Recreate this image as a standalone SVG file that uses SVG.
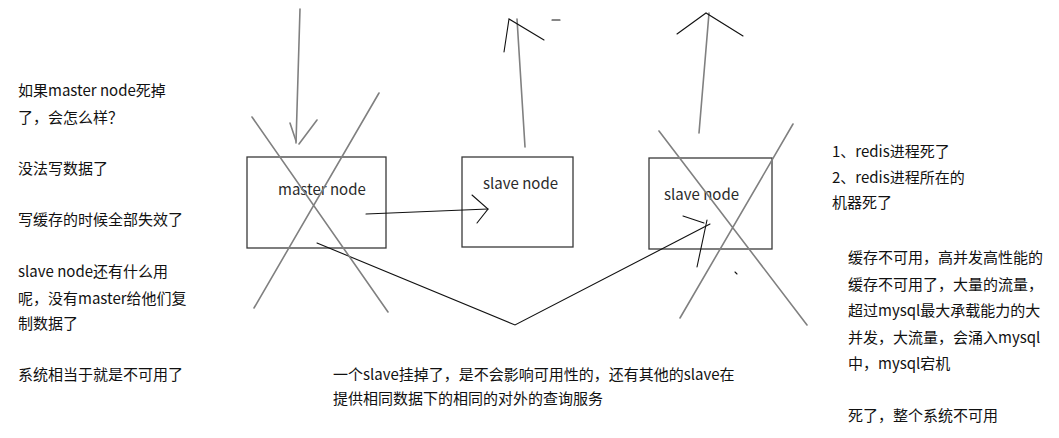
<svg xmlns="http://www.w3.org/2000/svg" width="1059" height="438" viewBox="0 0 1059 438">
<style>
  text { font-family: "Noto Sans CJK SC", "Noto Sans", sans-serif; font-size: 15px; fill: #111111; }
  .box { fill: #ffffff; stroke: #3a3a3a; stroke-width: 1.3; }
  .gray { fill: none; stroke: #808080; stroke-width: 1.6; stroke-linecap: round; }
  .ink { fill: none; stroke: #111111; stroke-width: 1.1; stroke-linecap: round; }
  .label { font-size: 15px; fill: #2a2a2a; }
</style>
<rect width="1059" height="438" fill="#ffffff"/>

<g id="master">
  <rect class="box" x="247" y="157" width="139" height="91"/>
  <text class="label" x="278" y="195">master node</text>
</g>
<g id="slave1">
  <rect class="box" x="462" y="157" width="111" height="90"/>
  <text class="label" x="483" y="189">slave node</text>
</g>
<g id="slave2">
  <rect class="box" x="649" y="158" width="123" height="91"/>
  <text class="label" x="664" y="200">slave node</text>
</g>

<g id="connectors">
  <!-- incoming write arrow to master -->
  <path class="gray" d="M300 9 L296 143"/>
  <path class="gray" d="M290 123 L296 141 M317 120 L299 144"/>
  <!-- replication master -> slave1 -->
  <path class="ink" d="M366 214 L488 209"/>
  <path class="ink" d="M472 195 L488 209 L477 223"/>
  <!-- outgoing from slave1 -->
  <path class="gray" d="M525 147 L517 19"/>
  <path class="ink" d="M504 52 L509 19 L544 40"/>
  <path class="ink" d="M552 20 L560 20"/>
  <!-- replication master -> slave2 (V shape) -->
  <path class="ink" d="M317 243 L515 325 L710 224"/>
  <path class="ink" d="M683 216 L704 223 M707 220 L697 267"/>
  <!-- outgoing from slave2 -->
  <path class="gray" d="M699 133 L709 13"/>
  <path class="ink" d="M677 34 L706 13 L743 36"/>
</g>

<!-- cross marks -->
<path class="gray" d="M252 117 L388 312 M379 93 L254 308"/>
<path class="gray" d="M659 131 L807 325 M793 124 L680 318"/>
<path class="ink" d="M735 272 L737 274"/>

<!-- left notes -->
<text x="18" y="96">如果master node死掉</text>
<text x="18" y="123">了，会怎么样？</text>
<text x="18" y="174">没法写数据了</text>
<text x="18" y="225">写缓存的时候全部失效了</text>
<text x="18" y="277">slave node还有什么用</text>
<text x="18" y="304">呢，没有master给他们复</text>
<text x="18" y="329">制数据了</text>
<text x="18" y="380">系统相当于就是不可用了</text>

<!-- right notes -->
<text x="832" y="157">1、redis进程死了</text>
<text x="832" y="183">2、redis进程所在的</text>
<text x="832" y="208">机器死了</text>
<text x="848" y="263">缓存不可用，高并发高性能的</text>
<text x="848" y="290">缓存不可用了，大量的流量，</text>
<text x="848" y="316">超过mysql最大承载能力的大</text>
<text x="848" y="343">并发，大流量，会涌入mysql</text>
<text x="848" y="369">中，mysql宕机</text>
<text x="848" y="421">死了，整个系统不可用</text>

<!-- bottom note -->
<text x="333" y="380">一个slave挂掉了，是不会影响可用性的，还有其他的slave在</text>
<text x="333" y="404">提供相同数据下的相同的对外的查询服务</text>
</svg>
